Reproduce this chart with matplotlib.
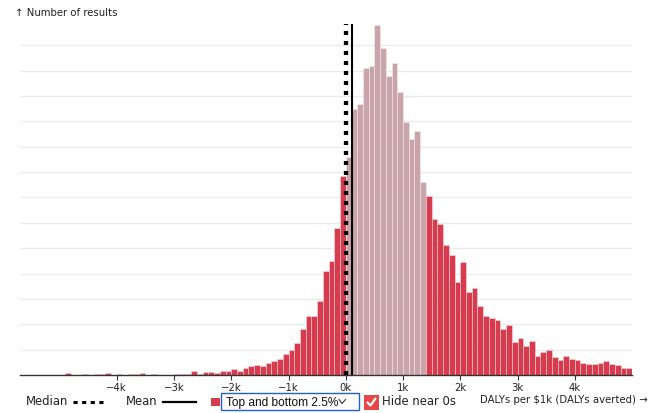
import numpy as np
import matplotlib
matplotlib.use("Agg")
import matplotlib.pyplot as plt
from matplotlib.patches import Rectangle
from matplotlib.lines import Line2D

plt.rcParams['font.family'] = ['DejaVu Sans']
plt.rcParams['lines.scale_dashes'] = False

# histogram of simulated results, bins of 100 DALYs per $1k
bin_width = 100
bin_lo = np.arange(-4900, 5000, bin_width)
counts = [3, 0, 0, 1, 0, 1, 1, 4, 0, 1,
          0, 1, 1, 3, 0, 2, 0, 0, 0, 1,
          1, 2, 7, 1, 5, 5, 4, 7, 8, 12,
          8, 13, 18, 19, 18, 23, 28, 32, 42, 50,
          63, 90, 117, 117, 145, 205, 224, 290, 392, 429,
          524, 535, 606, 610, 690, 645, 590, 615, 558, 498,
          466, 482, 381, 353, 308, 297, 256, 236, 184, 222,
          163, 171, 136, 117, 113, 109, 90, 98, 65, 72,
          58, 68, 38, 45, 49, 36, 30, 37, 32, 30,
          24, 21, 21, 23, 28, 21, 19, 13, 14]
# bins outside these are the top and bottom 2.5%
lo_cut = 0
hi_cut = 1400
median_val = 9
mean_val = 105
xticks = [-4000, -3000, -2000, -1000, 0, 1000, 2000, 3000, 4000]
xtick_labels = ['\u22124k', '\u22123k', '\u22122k', '\u22121k', '0k', '1k', '2k', '3k', '4k']

RED = '#d63c4e'
PINK = '#c9a4aa'

W, H = 665, 414
fig = plt.figure(figsize=(W / 100, H / 100), dpi=100)
ax = fig.add_axes([20 / W, 38 / H, 612 / W, 351 / H])

colors = [PINK if lo_cut <= b < hi_cut else RED for b in bin_lo]
ax.bar(bin_lo, counts, width=bin_width, align='edge', color=colors,
       edgecolor=(1, 1, 1, 0.35), linewidth=0.7, zorder=2)

ax.set_xlim(-5690, 5000)
ax.set_ylim(0, 692)
ax.set_yticks(np.arange(50, 692, 50))
ax.yaxis.grid(True, color='#ebebeb', linewidth=1, zorder=0)
ax.tick_params(axis='y', left=False, labelleft=False)
ax.set_xticks(xticks)
ax.set_xticklabels(xtick_labels)
ax.tick_params(axis='x', length=3.5, width=0.8, color='#333333', labelsize=7.3,
               labelcolor='#222222', pad=1.5)
for s in ['top', 'right', 'left']:
    ax.spines[s].set_visible(False)
ax.spines['bottom'].set_color('#333333')
ax.spines['bottom'].set_linewidth(1)
ax.set_axisbelow(True)

ax.axvline(median_val, color='black', linewidth=3.1, linestyle=(0, (2.9, 4.3)), zorder=3)
ax.axvline(mean_val, color='black', linewidth=1.5, zorder=3)

# overlay for labels and the legend row, in pixel units
ov = fig.add_axes([0, 0, 1, 1])
ov.set_xlim(0, W)
ov.set_ylim(H, 0)
ov.axis('off')

ov.text(15, 13.5, '\u2191 Number of results', fontsize=7.3, color='#222222', va='center')
ov.text(648, 400, 'DALYs per $1k (DALYs averted) \u2192', fontsize=7.3,
        color='#222222', ha='right', va='center')

ov.text(26, 401.5, 'Median', fontsize=8.4, color='#222222', va='center')
ov.add_line(Line2D([73, 106], [403, 403], color='black', linewidth=2.2,
                   linestyle=(0, (3.0, 3.2))))
ov.text(126, 401.5, 'Mean', fontsize=8.4, color='#222222', va='center')
ov.add_line(Line2D([163, 196], [403, 403], color='black', linewidth=1.6))

ov.add_patch(Rectangle((211, 399), 9, 8, color=RED, linewidth=0))
ov.add_patch(Rectangle((221, 394.5), 138, 16.5, facecolor='white',
                       edgecolor='#1f5fd4', linewidth=1))
ov.text(226, 403, 'Top and bottom 2.5%', fontsize=8.6, color='#111111',
        va='center', family=['Liberation Sans'])
ov.add_line(Line2D([339, 342, 345.5], [400.5, 404.5, 400.5], color='#333333', linewidth=0.8))

ov.add_patch(Rectangle((363.5, 396), 15.5, 15, color='#e8474a', linewidth=0))
ov.add_line(Line2D([367.5, 370.5, 375.5], [403.5, 406.5, 399.5], color='white', linewidth=1.6,
                   solid_capstyle='round'))
ov.text(382, 402, 'Hide near 0s', fontsize=8.4, color='#222222', va='center')

fig.savefig('out.png', dpi=100)
